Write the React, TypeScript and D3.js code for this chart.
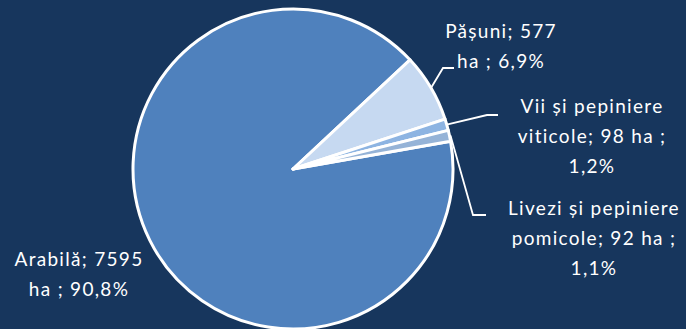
import React from "react";
import * as d3 from "d3";

const categories = ["Arabilă", "Pășuni", "Vii și pepiniere viticole", "Livezi și pepiniere pomicole"];
const values = [7595, 577, 98, 92];
const labelLines = [
  ["Arabilă; 7595", "ha ; 90,8%"],
  ["Pășuni; 577", "ha ; 6,9%"],
  ["Vii și pepiniere", "viticole; 98 ha ;", "1,2%"],
  ["Livezi și pepiniere", "pomicole; 92 ha ;", "1,1%"],
];
const colors = ["#4F81BD", "#C6D9F1", "#8DB4E2", "#95B3D7"];

const W = 686;
const H = 329;
const cx = 293;
const cy = 169;
const R = 160;

// label layout: center x, first baseline y
const labelPos = [
  { x: 79, y: 266 },
  { x: 501, y: 38 },
  { x: 592, y: 113 },
  { x: 594, y: 215 },
];
// leader line: knee point and end point (absolute)
const leaders: (null | { kx: number; ky: number; ex: number })[] = [
  null,
  { kx: 443, ky: 68, ex: 454 },
  { kx: 487, ky: 115, ex: 498 },
  { kx: 473, ky: 215, ex: 486 },
];

export default function App() {
  const pie = d3
    .pie<number>()
    .sort(null)
    .startAngle((80 * Math.PI) / 180)
    .endAngle((80 * Math.PI) / 180 + 2 * Math.PI);
  const arcs = pie(values);
  const arc = d3.arc<d3.PieArcDatum<number>>().innerRadius(0).outerRadius(R);

  return (
    <svg
      width={W}
      height={H}
      style={{ position: "absolute", left: 0, top: 0, display: "block" }}
    >
      <rect x={0} y={0} width={W} height={H} fill="#17365D" />
      <g transform={`translate(${cx},${cy})`}>
        {arcs.map((a, i) => (
          <path key={categories[i]} d={arc(a) || ""} fill={colors[i]} stroke="#FFFFFF" strokeWidth={3} strokeLinejoin="round" />
        ))}
      </g>
      {arcs.map((a, i) => {
        const l = leaders[i];
        if (!l) return null;
        const mid = (a.startAngle + a.endAngle) / 2;
        const sx = cx + Math.sin(mid) * (R + 1);
        const sy = cy - Math.cos(mid) * (R + 1);
        return (
          <polyline
            key={"l" + i}
            points={`${sx},${sy} ${l.kx},${l.ky} ${l.ex},${l.ky}`}
            fill="none"
            stroke="#FFFFFF"
            strokeWidth={1.8}
          />
        );
      })}
      {labelLines.map((lines, i) => (
        <text
          key={"t" + i}
          x={labelPos[i].x}
          y={labelPos[i].y}
          textAnchor="middle"
          fill="#FFFFFF"
          fontFamily="Lato, 'Open Sans', sans-serif"
          fontSize={19}
          letterSpacing={1.3}
        >
          {lines.map((ln, j) => (
            <tspan key={j} x={labelPos[i].x} dy={j === 0 ? 0 : 30}>
              {ln}
            </tspan>
          ))}
        </text>
      ))}
    </svg>
  );
}
